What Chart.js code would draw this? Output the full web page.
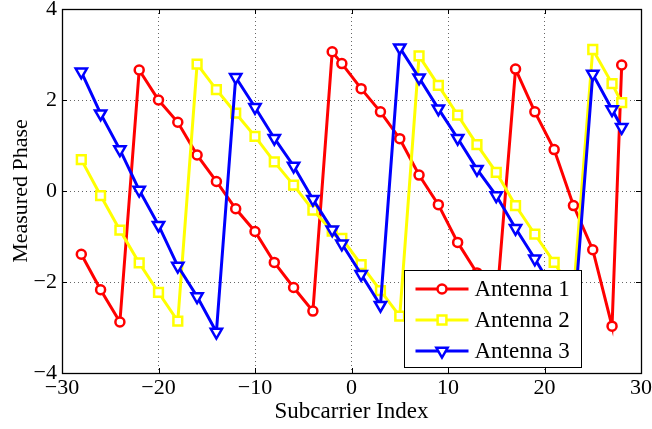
<!DOCTYPE html>
<html>
<head>
<meta charset="utf-8">
<title>Measured Phase</title>
<script src="https://cdn.jsdelivr.net/npm/chart.js@4"></script>
<style>
  html, body { margin: 0; padding: 0; background: #fff; }
</style>
</head>
<body>
<canvas id="myChart" width="652" height="429"></canvas>
<script>
// grouped subcarrier indices (30 per antenna)
var subcarriers = [-28, -26, -24, -22, -20, -18, -16, -14, -12, -10, -8, -6, -4, -2, -1,
                   1, 3, 5, 7, 9, 11, 13, 15, 17, 19, 21, 23, 25, 27, 28]

var antenna1 = [-1.39, -2.17, -2.88, 2.66, 2.00, 1.51, 0.79, 0.21, -0.39, -0.89, -1.57, -2.12, -2.64, 3.06, 2.80,
                2.25, 1.74, 1.15, 0.35, -0.30, -1.13, -1.80, -2.55, 2.68, 1.74, 0.91, -0.32, -1.29, -2.97, 2.77]
var antenna2 = [0.69, -0.10, -0.86, -1.58, -2.23, -2.86, 2.79, 2.23, 1.71, 1.20, 0.64, 0.13, -0.42, -0.88, -1.04,
                -1.62, -2.19, -2.75, 2.97, 2.32, 1.67, 1.02, 0.41, -0.32, -0.95, -1.57, -2.25, 3.11, 2.36, 1.94]
var antenna3 = [2.62, 1.70, 0.91, 0.02, -0.75, -1.65, -2.32, -3.10, 2.50, 1.84, 1.16, 0.55, -0.18, -0.85, -1.16,
                -1.83, -2.51, 3.15, 2.49, 1.81, 1.16, 0.48, -0.10, -0.82, -1.49, -2.20, -2.95, 2.57, 1.79, 1.40]

var labels = ['Antenna 1', 'Antenna 2', 'Antenna 3']
var xTicks = {min: -30, max: 30, step: 10}
var yTicks = {min: -4, max: 4, step: 2}

Chart.defaults.font.family = "'Liberation Serif', 'Times New Roman', serif"
Chart.defaults.color = '#000'

function points(ys) {
  return subcarriers.map((x, i) => ({x: x, y: ys[i]}))
}

// matlab style minus sign
function fmt(v) {
  return v < 0 ? '\u2212' + Math.abs(v) : '' + v
}

var styles = [
  {color: '#ff0000', marker: 'circle', radius: 4.5, rotation: 0},
  {color: '#ffff00', marker: 'rect', radius: 6.2, rotation: 0},
  {color: '#0000ff', marker: 'triangle', radius: 6.5, rotation: 180}
]

var datasets = [antenna1, antenna2, antenna3].map((ys, i) => {
  var s = styles[i]
  return {
    label: labels[i],
    data: points(ys),
    showLine: true,
    order: 3 - i,
    borderColor: s.color,
    borderWidth: 3,
    pointStyle: s.marker,
    pointRadius: s.radius,
    pointRotation: s.rotation,
    pointBorderWidth: 2.5,
    pointBorderColor: s.color,
    pointBackgroundColor: '#fff',
    pointHoverRadius: s.radius
  }
})

// box round the axes plus short inward ticks on all four sides
const frame = {
  id: 'frame',
  afterDraw(chart) {
    const c = chart.ctx
    const a = chart.chartArea
    const xs = chart.scales.x, ys = chart.scales.y
    const len = 5
    c.save()
    c.strokeStyle = '#000'
    c.lineWidth = 1
    c.beginPath()
    xs.ticks.forEach(t => {
      const px = Math.round(xs.getPixelForValue(t.value)) + 0.5
      c.moveTo(px, a.bottom); c.lineTo(px, a.bottom - len)
      c.moveTo(px, a.top); c.lineTo(px, a.top + len)
    })
    ys.ticks.forEach(t => {
      const py = Math.round(ys.getPixelForValue(t.value)) + 0.5
      c.moveTo(a.left, py); c.lineTo(a.left + len, py)
      c.moveTo(a.right, py); c.lineTo(a.right - len, py)
    })
    c.stroke()
    c.lineWidth = 1.3
    c.strokeRect(Math.round(a.left) + 0.5, Math.round(a.top) + 0.5,
                 Math.round(a.right - a.left), Math.round(a.bottom - a.top))
    c.restore()
  }
}

// legend box inside the lower right of the plot
const legendBox = {
  id: 'legendBox',
  afterDraw(chart) {
    const c = chart.ctx
    const a = chart.chartArea
    const w = 177, h = 97
    const x0 = Math.round(a.right - 60 - w) + 0.5
    const y0 = Math.round(a.bottom - 6 - h) + 0.5
    c.save()
    c.fillStyle = '#fff'
    c.fillRect(x0, y0, w, h)
    c.strokeStyle = '#000'
    c.lineWidth = 1
    c.strokeRect(x0, y0, w, h)
    chart.data.datasets.forEach((ds, i) => {
      const y = y0 + 18.5 + i * 31
      c.strokeStyle = ds.borderColor
      c.lineWidth = 3
      c.beginPath()
      c.moveTo(x0 + 11, y)
      c.lineTo(x0 + 64, y)
      c.stroke()
      c.fillStyle = '#fff'
      c.strokeStyle = ds.borderColor
      c.lineWidth = ds.pointBorderWidth
      Chart.helpers.drawPoint(c, {
        pointStyle: ds.pointStyle,
        radius: ds.pointRadius,
        rotation: ds.pointRotation,
        borderWidth: ds.pointBorderWidth
      }, x0 + 37.5, y)
      c.fillStyle = '#000'
      c.font = "23px 'Liberation Serif', 'Times New Roman', serif"
      c.textAlign = 'left'
      c.textBaseline = 'middle'
      c.fillText(ds.label, x0 + 70, y + 1)
    })
    c.restore()
  }
}

var ctx = document.getElementById('myChart')
var chart = new Chart(ctx, {
  type: 'scatter',
  data: {datasets: datasets},
  plugins: [frame, legendBox],
  options: {
    responsive: false,
    animation: false,
    events: [],
    layout: {padding: {top: 4, right: 11, left: 0, bottom: 0}},
    plugins: {
      legend: {display: false},
      tooltip: {enabled: false}
    },
    scales: {
      x: {
        type: 'linear',
        min: xTicks.min,
        max: xTicks.max,
        ticks: {stepSize: xTicks.step, font: {size: 22}, padding: 2, maxRotation: 0, callback: fmt},
        grid: {color: '#666', lineWidth: 1, drawTicks: false},
        border: {display: false, dash: [1, 3]},
        title: {display: true, text: 'Subcarrier Index', font: {size: 23}, padding: {top: 0, bottom: 3}},
        afterFit: (s) => { s.height = 56; s.paddingLeft = 0; s.paddingRight = 0 }
      },
      y: {
        type: 'linear',
        min: yTicks.min,
        max: yTicks.max,
        ticks: {stepSize: yTicks.step, font: {size: 22}, padding: 5, callback: fmt},
        grid: {color: '#666', lineWidth: 1, drawTicks: false},
        border: {display: false, dash: [1, 3]},
        title: {display: true, text: 'Measured Phase', font: {size: 22}, padding: {top: 8, bottom: 0}},
        afterFit: (s) => { s.width = 62; s.paddingTop = 0; s.paddingBottom = 0 }
      }
    }
  }
})
</script>
</body>
</html>
